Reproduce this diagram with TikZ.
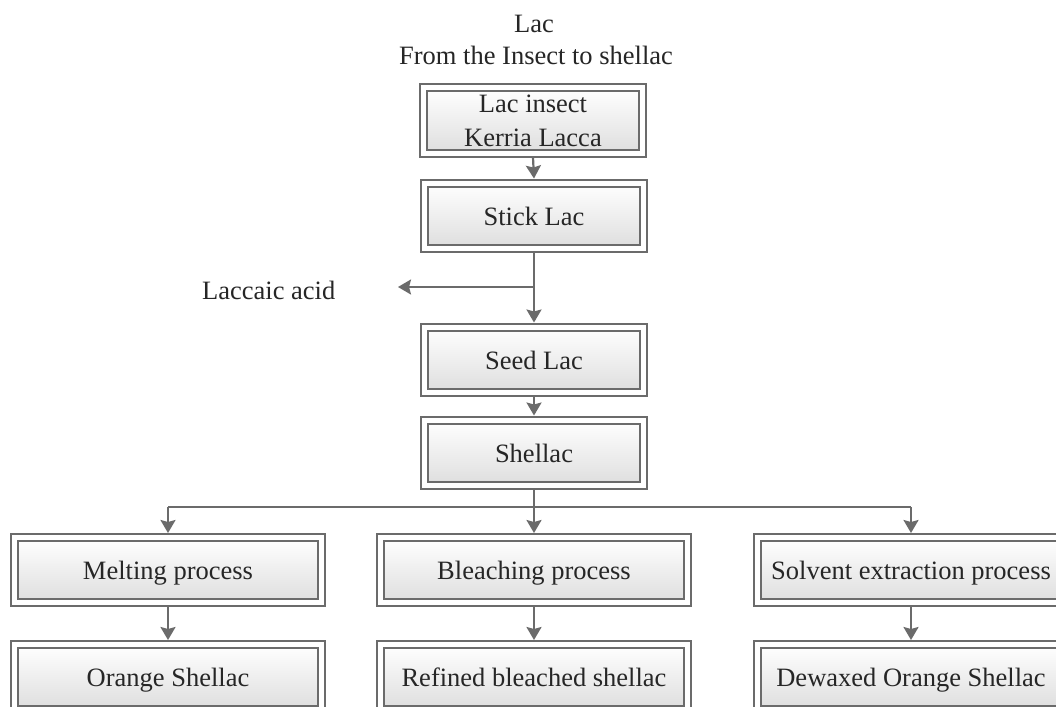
\documentclass[tikz,border=0pt]{standalone}
\usepackage{fontspec}
\setmainfont{Liberation Serif}
\usetikzlibrary{arrows.meta}
\definecolor{linegray}{HTML}{6B6B6B}
\definecolor{txt}{HTML}{262626}
\tikzset{
  pbox/.style={draw=linegray, line width=2pt, double=white, double distance=5pt,
    top color=white, bottom color=black!13, rectangle, inner sep=0pt,
    outer sep=4.5pt, minimum height=65pt, text=txt, align=center,
    font=\fontsize{26.5}{34}\selectfont},
  oneline/.style={text height=19pt, text depth=0pt},
  topbox/.style={pbox, minimum width=219pt},
  widebox/.style={pbox, oneline, minimum width=307pt},
  plain/.style={text=txt, font=\fontsize{26.5}{33}\selectfont, inner sep=0pt},
  conn/.style={draw=linegray, line width=2.2pt},
  arr/.style={conn, -{Stealth[length=13pt, width=15pt, inset=2pt]}}
}
\begin{document}
\begin{tikzpicture}[x=1pt, y=-1pt]
\useasboundingbox (0,0) rectangle (1056,706);
\clip (0,0) rectangle (1056,706);
\fill[white] (0,0) rectangle (1056,706);

\node[plain, anchor=base] (title1) at (534,33) {Lac};
\node[plain, anchor=base] (title2) at (536,65) {From the Insect to shellac};

\node[topbox] (insect) at (533,120.5) {Lac insect\\Kerria Lacca};
\node[topbox, oneline] (stick) at (534,215.5) {Stick Lac};
\node[topbox, oneline] (seed) at (534,359.5) {Seed Lac};
\node[topbox, oneline] (shellac) at (534,452.5) {Shellac};

\node[widebox] (melt) at (168,570) {Melting process};
\node[widebox] (bleach) at (534,570) {Bleaching process};
\node[widebox] (solv) at (911,570) {Solvent extraction process};

\node[widebox] (orange) at (168,677) {Orange Shellac};
\node[widebox] (refined) at (534,677) {Refined bleached shellac};
\node[widebox] (dewaxed) at (911,677) {Dewaxed Orange Shellac};

\node[plain, anchor=base west] (acid) at (202,299) {Laccaic acid};

\coordinate (branch) at (534,287);
\coordinate (acidend) at (398,287);
\coordinate (split) at (534,507);

\draw[arr] (insect.south) -- (stick.north);
\draw[arr] (stick.south) -- (seed.north);
\draw[arr] (branch) -- (acidend);
\draw[arr] (seed.south) -- (shellac.north);
\draw[arr] (shellac.south) -- (bleach.north);
\draw[conn] (melt.north |- split) -- (solv.north |- split);
\draw[arr] (melt.north |- split) -- (melt.north);
\draw[arr] (solv.north |- split) -- (solv.north);
\draw[arr] (melt.south) -- (orange.north);
\draw[arr] (bleach.south) -- (refined.north);
\draw[arr] (solv.south) -- (dewaxed.north);
\end{tikzpicture}
\end{document}
